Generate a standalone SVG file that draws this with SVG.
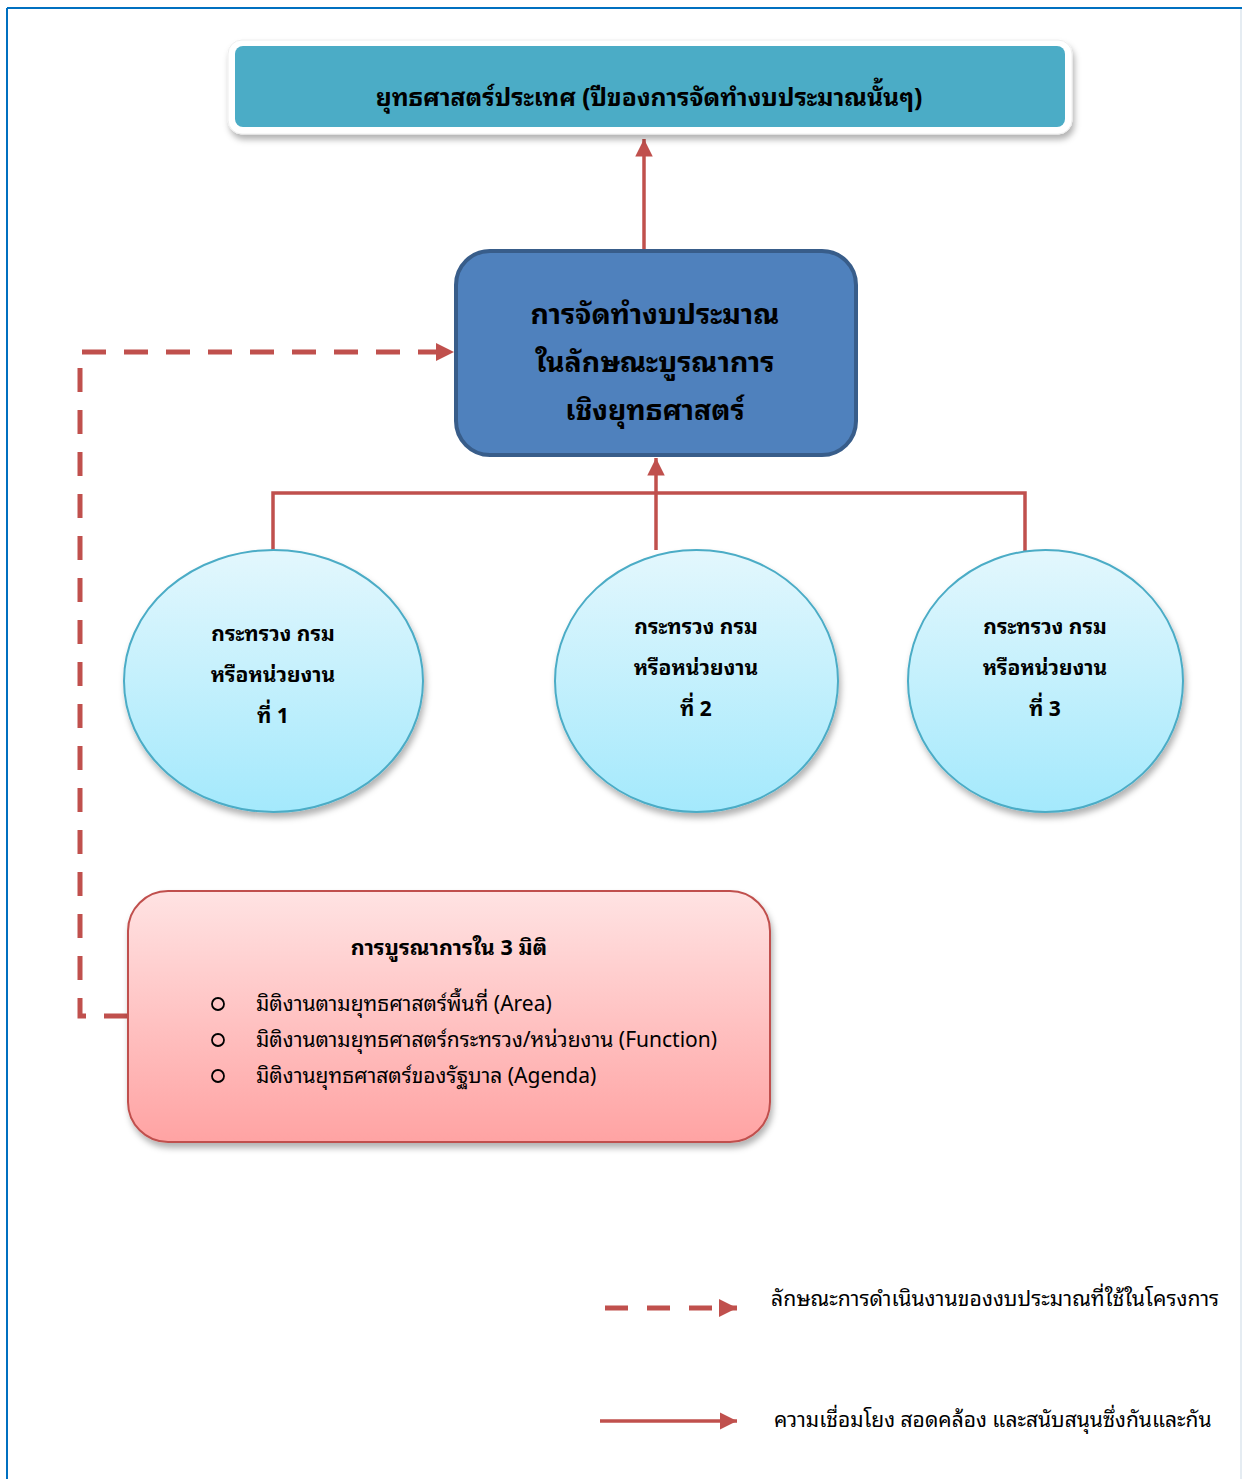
<svg xmlns="http://www.w3.org/2000/svg" width="1242" height="1479" viewBox="0 0 1242 1479">
  <style>
    .th { font-family: "Noto Sans Thai Looped", "Noto Sans", "Noto Sans Thai", "Tahoma", "DejaVu Sans", sans-serif; fill: #000; }
    .b { font-weight: bold; }
    .ctr { text-anchor: middle; }
    .link { stroke: #C0504D; stroke-width: 3.5; fill: none; }
    .dash { stroke: #C0504D; stroke-width: 5; fill: none; stroke-dasharray: 24 18; }
    .oval { stroke: #4BACC6; stroke-width: 2; fill: url(#ovalFill); filter: url(#shadow); }
  </style>
  <defs>
    <linearGradient id="ovalFill" x1="0" y1="0" x2="0" y2="1">
      <stop offset="0" stop-color="#E3F7FD"/>
      <stop offset="1" stop-color="#A4E9FC"/>
    </linearGradient>
    <linearGradient id="pinkFill" x1="0" y1="0" x2="0" y2="1">
      <stop offset="0" stop-color="#FFE3E3"/>
      <stop offset="1" stop-color="#FFA3A3"/>
    </linearGradient>
    <filter id="shadow" x="-10%" y="-10%" width="125%" height="130%">
      <feDropShadow dx="2" dy="5" stdDeviation="3" flood-color="#000" flood-opacity="0.3"/>
    </filter>
    <marker id="head" viewBox="0 0 10 10" refX="10" refY="5" markerWidth="5" markerHeight="5" orient="auto" markerUnits="strokeWidth">
      <path d="M0,0 L10,5 L0,10 Z" fill="#C0504D"/>
    </marker>
    <marker id="headDash" viewBox="0 0 10 10" refX="10" refY="5" markerWidth="3.6" markerHeight="3.6" orient="auto" markerUnits="strokeWidth">
      <path d="M0,0 L10,5 L0,10 Z" fill="#C0504D"/>
    </marker>
  </defs>

  <rect width="1242" height="1479" fill="#fff"/>

  <!-- page frame -->
  <g id="frame">
    <line x1="7" y1="8" x2="1242" y2="8" stroke="#0070C0" stroke-width="2"/>
    <line x1="7" y1="8" x2="7" y2="1479" stroke="#0070C0" stroke-width="2"/>
    <line x1="1241" y1="9" x2="1241" y2="1479" stroke="#DCE6EE" stroke-width="1.5"/>
  </g>

  <!-- connectors -->
  <g id="connectors">
    <line class="link" x1="644" y1="250" x2="644" y2="139" marker-end="url(#head)"/>
    <polyline class="link" points="273,550 273,493 1025,493 1025,551"/>
    <line class="link" x1="656" y1="550" x2="656" y2="458" marker-end="url(#head)"/>
    <path class="dash" d="M128,1016 H80 V352 H454" marker-end="url(#headDash)"/>
  </g>

  <!-- national strategy -->
  <g id="national-strategy">
    <rect x="228" y="40" width="844" height="94" rx="14" fill="#fff" stroke="#EEEEEE" filter="url(#shadow)"/>
    <rect x="235" y="46" width="830" height="81" rx="8" fill="#4BACC6"/>
    <text class="th b ctr" x="649" y="106" font-size="24.7">ยุทธศาสตร์ประเทศ (ปีของการจัดทำงบประมาณนั้นๆ)</text>
  </g>

  <!-- integrated budgeting -->
  <g id="integrated-budget">
    <rect x="456" y="251" width="400" height="204" rx="34" fill="#4F81BD" stroke="#385D8A" stroke-width="4"/>
    <text class="th b ctr" x="655" y="324" font-size="28.4">การจัดทำงบประมาณ</text>
    <text class="th b ctr" x="655" y="372" font-size="28.4">ในลักษณะบูรณาการ</text>
    <text class="th b ctr" x="655" y="420" font-size="28.4">เชิงยุทธศาสตร์</text>
  </g>

  <!-- agencies -->
  <g id="agency-1">
    <ellipse class="oval" cx="273.5" cy="681" rx="149.5" ry="131"/>
    <text class="th b ctr" x="273" y="641" font-size="21">กระทรวง กรม</text>
    <text class="th b ctr" x="273" y="682" font-size="21">หรือหน่วยงาน</text>
    <text class="th b ctr" x="273" y="723" font-size="21">ที่ 1</text>
  </g>
  <g id="agency-2">
    <ellipse class="oval" cx="696.5" cy="681" rx="141.5" ry="131"/>
    <text class="th b ctr" x="696" y="634" font-size="21">กระทรวง กรม</text>
    <text class="th b ctr" x="696" y="675" font-size="21">หรือหน่วยงาน</text>
    <text class="th b ctr" x="696" y="716" font-size="21">ที่ 2</text>
  </g>
  <g id="agency-3">
    <ellipse class="oval" cx="1045.5" cy="681" rx="137.5" ry="131"/>
    <text class="th b ctr" x="1045" y="634" font-size="21">กระทรวง กรม</text>
    <text class="th b ctr" x="1045" y="675" font-size="21">หรือหน่วยงาน</text>
    <text class="th b ctr" x="1045" y="716" font-size="21">ที่ 3</text>
  </g>

  <!-- three dimensions -->
  <g id="three-dimensions">
    <rect x="128" y="891" width="642" height="251" rx="40" fill="url(#pinkFill)" stroke="#C0504D" stroke-width="2" filter="url(#shadow)"/>
    <text class="th b ctr" x="449" y="955" font-size="21.5">การบูรณาการใน 3 มิติ</text>
    <g fill="none" stroke="#000" stroke-width="1.8">
      <circle cx="218" cy="1004" r="6"/>
      <circle cx="218" cy="1040" r="6"/>
      <circle cx="218" cy="1076" r="6"/>
    </g>
    <text class="th" x="256" y="1011" font-size="21">มิติงานตามยุทธศาสตร์พื้นที่ (Area)</text>
    <text class="th" x="256" y="1047" font-size="21">มิติงานตามยุทธศาสตร์กระทรวง/หน่วยงาน (Function)</text>
    <text class="th" x="256" y="1083" font-size="21">มิติงานยุทธศาสตร์ของรัฐบาล (Agenda)</text>
  </g>

  <!-- legend -->
  <g id="legend">
    <line x1="605" y1="1308" x2="737" y2="1308" stroke="#C0504D" stroke-width="5" stroke-dasharray="23 19" marker-end="url(#headDash)"/>
    <text class="th" x="771" y="1306" font-size="21.2">ลักษณะการดำเนินงานของงบประมาณที่ใช้ในโครงการ</text>
    <line class="link" x1="600" y1="1421" x2="737" y2="1421" marker-end="url(#head)"/>
    <text class="th" x="774" y="1427" font-size="21">ความเชื่อมโยง สอดคล้อง และสนับสนุนซึ่งกันและกัน</text>
  </g>
</svg>
